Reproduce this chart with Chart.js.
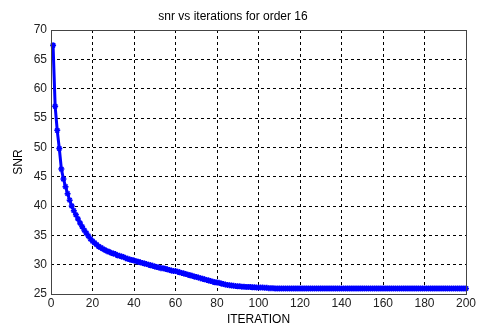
<!DOCTYPE html>
<html>
<head>
<meta charset="utf-8">
<script src="https://cdn.jsdelivr.net/npm/chart.js@4/dist/chart.umd.min.js"></script>
<style>
html,body{margin:0;padding:0;background:#fff;}
canvas{display:block;}
</style>
</head>
<body>
<canvas id="c" width="480" height="327"></canvas>
<script>
const titleText = "snr vs iterations for order 16";
const xLabel = "ITERATION";
const yLabel = "SNR";
const xTicks = [0,20,40,60,80,100,120,140,160,180,200];
const yTicks = [25,30,35,40,45,50,55,60,65,70];
const snrHead = [
67.4,57.0,52.9,49.8,46.3,44.6,43.3,42.1,41.0,40.0,
39.2,38.5,37.8,37.1,36.5,35.9,35.4,34.9,34.4,34.0,
33.7,33.4,33.1,32.9,32.7,32.5,32.3,32.2,32.0,31.9,
31.8,31.6,31.5,31.4,31.3,31.1,31.0,30.9,30.8,30.7,
30.6,30.5,30.4,30.3,30.2,30.1,30.0,29.9,29.8,29.7,
29.6,29.5,29.4,29.4,29.3,29.2,29.1,29.0,28.9,28.9,
28.8,28.7,28.6,28.5,28.4,28.3,28.2,28.1,28.0,27.9,
27.8,27.7,27.6,27.5,27.4,27.3,27.2,27.1,27.0,26.95,
26.9,26.8,26.7,26.6,26.55,26.5,26.45,26.4,26.35,26.3,
26.3,26.25,26.25,26.2,26.2,26.2,26.15,26.15,26.1,26.1,
26.1,26.1,26.05,26.05,26.0,26.0,26.0
];
const snrTailValue = 25.95;
const iterations = [];
const snr = [];
for (let i = 0; i < 200; i++) {
  iterations.push(i + 1);
  snr.push(i < snrHead.length ? snrHead[i] : snrTailValue);
}

const frame = {
  id: 'frame',
  afterDatasetsDraw(chart) {
    const a = chart.chartArea, ctx = chart.ctx;
    ctx.save();
    ctx.strokeStyle = '#444';
    ctx.lineWidth = 1;
    ctx.strokeRect(Math.round(a.left)+0.5, Math.round(a.top)+0.5, Math.round(a.right-a.left), Math.round(a.bottom-a.top));
    ctx.restore();
  }
};

new Chart(document.getElementById('c'), {
  type: 'line',
  data: {
    datasets: [{
      data: iterations.map((x, i) => ({x: x, y: snr[i]})),
      borderColor: '#0000ff',
      backgroundColor: '#0000ff',
      borderWidth: 3,
      pointStyle: 'star',
      pointRadius: 3,
      pointBorderWidth: 1.5,
      pointBorderColor: '#0000ff',
      tension: 0,
      clip: false
    }]
  },
  options: {
    responsive: false,
    animation: false,
    layout: {padding: {left: 0, right: 14, top: 0, bottom: 0}},
    plugins: {
      legend: {display: false},
      tooltip: {enabled: false},
      title: {
        display: true,
        text: titleText,
        color: '#000',
        font: {family: 'Liberation Sans, Arial', size: 12, weight: 'normal'},
        padding: {top: 9, bottom: 6.6}
      }
    },
    scales: {
      x: {
        type: 'linear',
        min: 0, max: 200,
        afterFit(s) { s.height = 33; },
        afterBuildTicks(s) { s.ticks = xTicks.map(v => ({value: v})); },
        ticks: {color: '#222', font: {family: 'Liberation Sans, Arial', size: 12}, padding: 2, maxRotation: 0},
        grid: {color: '#000', lineWidth: 1, tickLength: 0, drawTicks: false},
        border: {display: false, dash: [3, 3]},
        title: {display: true, text: xLabel, color: '#000', font: {family: 'Liberation Sans, Arial', size: 12}, padding: {top: 0, bottom: 0}}
      },
      y: {
        type: 'linear',
        min: 25, max: 70,
        afterFit(s) { s.width = 51; },
        afterBuildTicks(s) { s.ticks = yTicks.map(v => ({value: v})); },
        ticks: {color: '#222', font: {family: 'Liberation Sans, Arial', size: 12}, padding: 4},
        grid: {color: '#000', lineWidth: 1, tickLength: 0, drawTicks: false},
        border: {display: false, dash: [3, 3]},
        title: {display: true, text: yLabel, color: '#000', font: {family: 'Liberation Sans, Arial', size: 12}, padding: {top: 11, bottom: 0}}
      }
    }
  },
  plugins: [frame]
});
</script>
</body>
</html>
